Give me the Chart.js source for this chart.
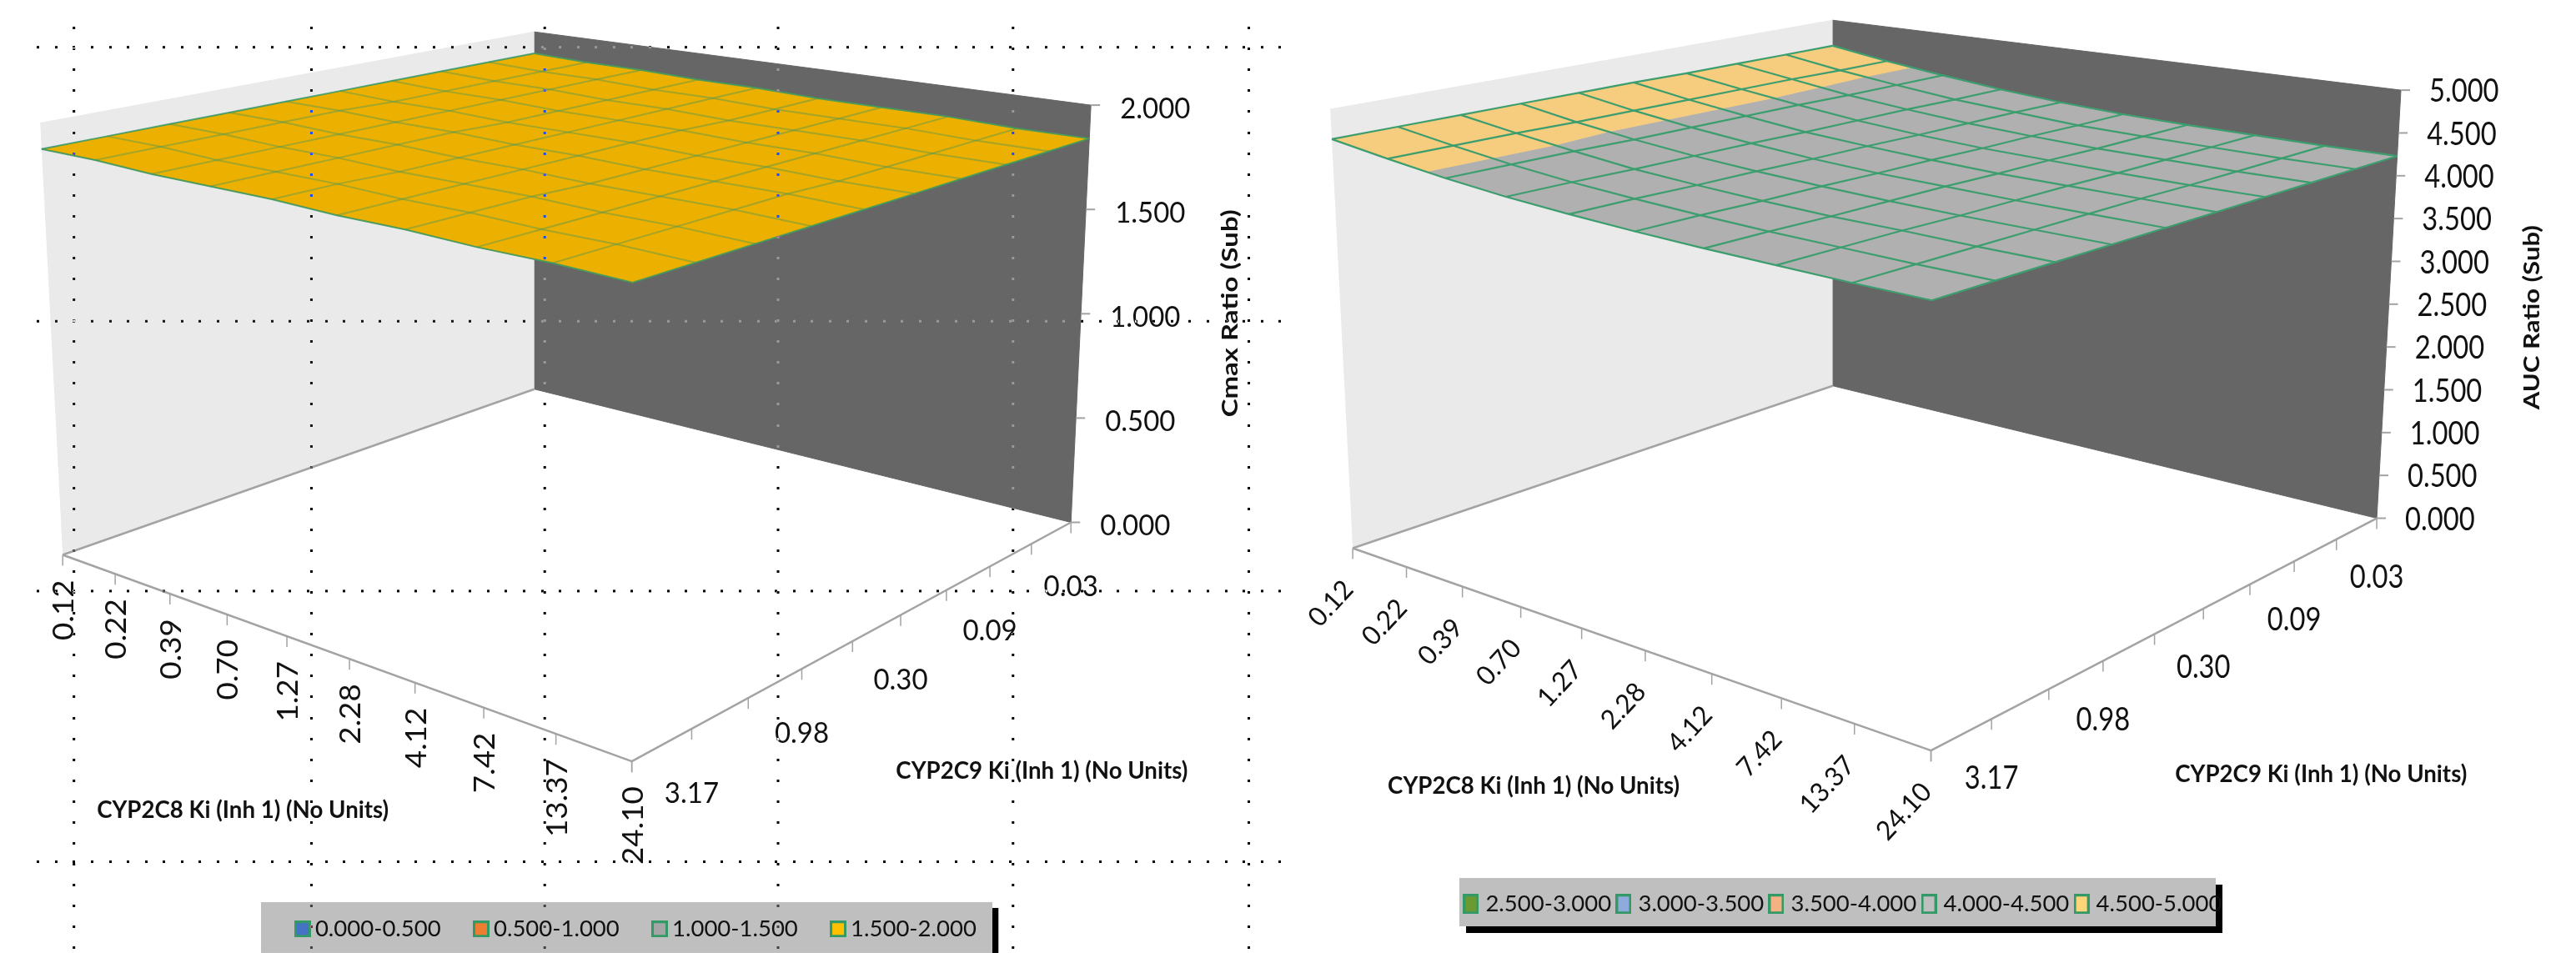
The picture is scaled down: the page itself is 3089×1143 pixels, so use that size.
<!DOCTYPE html>
<html lang="en">
  <head>
    <meta charset="UTF-8" />
    <title>CYP2C8 / CYP2C9 Ki surface charts</title>
    <style>
      html, body { margin: 0; background: #fff; overflow: hidden; }
      canvas { position: absolute; top: 0; }
      #auc { left: 1500px; z-index: 1; }
      #cmax { left: 0; z-index: 2; }
    </style>
  </head>
  <body>
    <canvas id="auc" width="1589" height="1143"></canvas>
    <canvas id="cmax" width="1545" height="1143"></canvas>

    <script src="https://cdn.jsdelivr.net/npm/chart.js@4"></script>
    <script>
      // axis labels, the same for both charts (C9 only labels every other tick)
      const c8Labels = ["0.12", "0.22", "0.39", "0.70", "1.27", "2.28", "4.12", "7.42", "13.37", "24.10"];
      const c9Labels = ["0.03", "", "0.09", "", "0.30", "", "0.98", "", "3.17", ""];

      const cmaxTicks = [0, 0.5, 1, 1.5, 2];
      const aucTicks = [0, 0.5, 1, 1.5, 2, 2.5, 3, 3.5, 4, 4.5, 5];

      // legends
      const cmaxBands = ["0.000-0.500", "0.500-1.000", "1.000-1.500", "1.500-2.000"];
      const cmaxBandEdges = [0, 0.5, 1, 1.5, 2];
      const cmaxSwatches = ["#4472C4", "#ED7D31", "#A5A5A5", "#FFC000"];
      const cmaxSurface = ["#4472C4", "#ED7D31", "#A5A5A5", "#EBB000"];

      const aucBands = ["2.500-3.000", "3.000-3.500", "3.500-4.000", "4.000-4.500", "4.500-5.000"];
      const aucBandEdges = [2.5, 3, 3.5, 4, 4.5, 5];
      const aucSwatches = ["#6B9A33", "#8FAADC", "#F4B183", "#BFBFBF", "#FFD579"];
      const aucSurface = ["#6B9A33", "#8FAADC", "#F4B183", "#B0B0B0", "#F6CC7F"];

      // surface heights, rows = C9 Ki, columns = C8 Ki
      const cmaxGrid = [
        [1.88, 1.87, 1.87, 1.86, 1.86, 1.85, 1.85, 1.85, 1.84, 1.84],
        [1.88, 1.87, 1.87, 1.86, 1.86, 1.85, 1.85, 1.85, 1.84, 1.84],
        [1.88, 1.87, 1.87, 1.86, 1.86, 1.85, 1.85, 1.85, 1.84, 1.84],
        [1.88, 1.87, 1.87, 1.86, 1.86, 1.86, 1.85, 1.85, 1.84, 1.84],
        [1.88, 1.87, 1.87, 1.86, 1.86, 1.86, 1.85, 1.85, 1.84, 1.84],
        [1.88, 1.88, 1.87, 1.87, 1.86, 1.86, 1.85, 1.85, 1.85, 1.84],
        [1.88, 1.88, 1.87, 1.87, 1.86, 1.86, 1.85, 1.85, 1.85, 1.84],
        [1.88, 1.88, 1.87, 1.87, 1.86, 1.86, 1.86, 1.85, 1.85, 1.84],
        [1.88, 1.88, 1.87, 1.87, 1.87, 1.86, 1.86, 1.85, 1.85, 1.84],
        [1.88, 1.88, 1.87, 1.87, 1.87, 1.86, 1.86, 1.85, 1.85, 1.84]
      ];
      const aucGrid = [
        [4.65, 4.54, 4.45, 4.37, 4.31, 4.27, 4.25, 4.24, 4.23, 4.23],
        [4.65, 4.54, 4.45, 4.37, 4.32, 4.27, 4.25, 4.24, 4.23, 4.23],
        [4.65, 4.55, 4.45, 4.38, 4.32, 4.28, 4.25, 4.24, 4.23, 4.23],
        [4.65, 4.55, 4.46, 4.38, 4.32, 4.28, 4.26, 4.24, 4.23, 4.23],
        [4.66, 4.55, 4.46, 4.38, 4.33, 4.29, 4.26, 4.25, 4.24, 4.23],
        [4.66, 4.55, 4.46, 4.39, 4.33, 4.29, 4.27, 4.25, 4.24, 4.23],
        [4.66, 4.55, 4.46, 4.39, 4.34, 4.30, 4.27, 4.25, 4.24, 4.23],
        [4.66, 4.56, 4.47, 4.39, 4.34, 4.30, 4.27, 4.26, 4.24, 4.23],
        [4.66, 4.56, 4.47, 4.40, 4.35, 4.31, 4.28, 4.26, 4.24, 4.23],
        [4.66, 4.56, 4.47, 4.40, 4.35, 4.31, 4.28, 4.26, 4.24, 4.23]
      ];

      // the selection marks around the left chart
      const dotColumns = [87, 372, 652, 932, 1214, 1497];
      const dotRows = [55, 384, 708, 1033];

      const font = "Lato";

      // square -> quad homography, corners in order back, right, front, left
      function homography(q) {
        const [[x0, y0], [x1, y1], [x2, y2], [x3, y3]] = q;
        const dx1 = x1 - x2, dx2 = x3 - x2, dx3 = x0 - x1 + x2 - x3;
        const dy1 = y1 - y2, dy2 = y3 - y2, dy3 = y0 - y1 + y2 - y3;
        const den = dx1 * dy2 - dx2 * dy1;
        const g = (dx3 * dy2 - dx2 * dy3) / den;
        const h = (dx1 * dy3 - dx3 * dy1) / den;
        const a = x1 - x0 + g * x1, b = x3 - x0 + h * x3;
        const d = y1 - y0 + g * y1, e = y3 - y0 + h * y3;
        return (u, v) => {
          const w = g * u + h * v + 1;
          return [(a * u + b * v + x0) / w, (d * u + e * v + y0) / w];
        };
      }

      // keeps the part of a cell on one side of a height
      function clipAbove(poly, limit, sign) {
        const out = [];
        poly.forEach((p, k) => {
          const q = poly[(k + 1) % poly.length];
          const pIn = sign * (p.z - limit) >= 0, qIn = sign * (q.z - limit) >= 0;
          if (pIn) out.push(p);
          if (pIn !== qIn) {
            const t = (limit - p.z) / (q.z - p.z);
            out.push({ u: p.u + t * (q.u - p.u), v: p.v + t * (q.v - p.v), z: limit });
          }
        });
        return out;
      }

      function swatch(w, h, color) {
        const c = document.createElement("canvas");
        c.width = w;
        c.height = h;
        const ctx = c.getContext("2d");
        ctx.fillStyle = "#339966";
        ctx.fillRect(0, 0, w, h);
        ctx.fillStyle = color;
        ctx.fillRect(3, 3, w - 6, h - 6);
        return c;
      }

      function drawText(ctx, str, x, y, o) {
        ctx.save();
        ctx.translate(x, y);
        ctx.rotate(((o.rot || 0) * Math.PI) / 180);
        ctx.font = (o.bold ? "bold " : "") + o.size + "px " + (o.family || font);
        ctx.textAlign = o.align || "left";
        ctx.textBaseline = "middle";
        ctx.fillStyle = "#111";
        let sx = o.sx || 1;
        if (o.width) sx = o.width / ctx.measureText(str).width;
        ctx.scale(sx, 1);
        ctx.fillText(str, 0, 0);
        ctx.restore();
      }

      function makeChart(id, cfg) {
        const floor = homography(cfg.floor);
        const top = homography(cfg.top);
        const zMax = cfg.ticks[cfg.ticks.length - 1];
        const project = (u, v, z) => {
          const a = floor(u, v), b = top(u, v), w = z / zMax;
          return { x: a[0] + (b[0] - a[0]) * w, y: a[1] + (b[1] - a[1]) * w };
        };
        const shift = (p, dx, dy) => ({ x: p.x + dx, y: p.y + dy });
        const n = cfg.grid.length - 1;
        const sets = [];
        const line = (data, color, width) =>
          sets.push({ data, showLine: true, pointRadius: 0, borderColor: color, borderWidth: width, fill: false, clip: false, tension: 0 });
        const shape = (data, color) =>
          sets.push({ data, showLine: true, pointRadius: 0, borderColor: color, borderWidth: 1, backgroundColor: color, fill: "shape", clip: false, tension: 0 });

        // walls
        shape([project(0, 1, zMax), project(0, 0, zMax), project(0, 0, 0), project(0, 1, 0)], "#EAEAEA");
        shape([project(0, 0, zMax), project(1, 0, zMax), project(1, 0, 0), project(0, 0, 0)], "#666666");

        // floor edges and axis ticks
        const edge = "#A3A3A3";
        line([project(0, 1, 0), project(0, 0, 0)], edge, 2.5);
        line([project(0, 1, 0), project(1, 1, 0)], edge, 2.5);
        line([project(1, 1, 0), project(1, 0, 0)], edge, 2.5);
        c8Labels.forEach((_, i) => {
          const p = project(i / n, 1, 0);
          line([p, shift(p, 0, 13)], edge, 1.5);
        });
        c9Labels.forEach((_, j) => {
          const p = project(1, j / n, 0);
          line([p, shift(p, 0, 13)], edge, 1.5);
        });
        cfg.ticks.forEach((t) => {
          const p = project(1, 0, t);
          line([p, shift(p, 11, 0)], edge, 2);
        });

        // surface cells, split along the colour bands
        for (let j = 0; j < n; j++) {
          for (let i = 0; i < n; i++) {
            const cell = [[i, j], [i + 1, j], [i + 1, j + 1], [i, j + 1]].map(([a, b]) => ({ u: a / n, v: b / n, z: cfg.grid[b][a] }));
            cfg.surface.forEach((color, k) => {
              let poly = clipAbove(cell, cfg.edges[k], 1);
              if (poly.length) poly = clipAbove(poly, cfg.edges[k + 1], -1);
              if (poly.length > 2) shape(poly.map((p) => project(p.u, p.v, p.z)), color);
            });
          }
        }
        // surface mesh
        for (let k = 0; k <= n; k++) {
          const outer = k === 0 || k === n;
          const rowLine = cfg.grid[k].map((z, i) => project(i / n, k / n, z));
          const colLine = cfg.grid.map((row, j) => project(k / n, j / n, row[k]));
          line(rowLine, outer ? cfg.meshEdge : cfg.mesh, cfg.meshWidth);
          line(colLine, outer ? cfg.meshEdge : cfg.mesh, cfg.meshWidth);
        }

        const labelsPlugin = {
          id: "labels",
          beforeDraw(chart) {
            const ctx = chart.ctx;
            const X = (v) => chart.scales.x.getPixelForValue(v);
            const Y = (v) => chart.scales.y.getPixelForValue(v);
            ctx.save();
            ctx.fillStyle = "#fff";
            ctx.fillRect(0, 0, chart.width, chart.height);
            cfg.legendShadow.forEach((b) => {
              ctx.fillStyle = "#000";
              ctx.fillRect(X(b[0]), Y(b[1]), b[2], b[3]);
            });
            const b = cfg.legendBox;
            ctx.fillStyle = "#BFBFBF";
            ctx.fillRect(X(b[0]), Y(b[1]), b[2], b[3]);
            ctx.restore();
          },
          afterDraw(chart) {
            const ctx = chart.ctx;
            const X = (v) => chart.scales.x.getPixelForValue(v);
            const Y = (v) => chart.scales.y.getPixelForValue(v);
            cfg.ticks.forEach((t) => {
              const p = project(1, 0, t);
              drawText(ctx, t.toFixed(3), X(p.x) + cfg.zLabel[0], Y(p.y) + cfg.zLabel[1], cfg.tickFont);
            });
            c9Labels.forEach((s, j) => {
              const p = project(1, j / n, 0);
              if (s) drawText(ctx, s, X(p.x), Y(p.y) + cfg.c9Offset, Object.assign({}, cfg.tickFont, { align: "center" }));
            });
            c8Labels.forEach((s, i) => {
              const p = project(i / n, 1, 0);
              drawText(ctx, s, X(p.x) + cfg.c8Offset[0], Y(p.y) + cfg.c8Offset[1], cfg.c8Font);
            });
            cfg.titles.forEach((t) => drawText(ctx, t.text, X(t.x), Y(t.y), t));
            if (cfg.dots) {
              // the marquee inverts whatever it runs over
              ctx.save();
              ctx.globalCompositeOperation = "difference";
              ctx.fillStyle = "#fff";
              for (const cx of dotColumns) {
                for (let y = 32; y < 1143; y += 25.1) ctx.fillRect(X(cx) - 1, Math.round(Y(y)) - 1, 3, 3);
              }
              for (const cy of dotRows) {
                for (let x = 44; x < 1545; x += 21.6) ctx.fillRect(Math.round(X(x)) - 1, Y(cy) - 1, 3, 3);
              }
              ctx.restore();
            }
          }
        };

        const chart = new Chart(document.getElementById(id), {
          type: "scatter",
          data: { datasets: sets.reverse() },
          plugins: [labelsPlugin],
          options: {
            responsive: false,
            animation: false,
            events: [],
            layout: { padding: { right: cfg.padRight, bottom: cfg.padBottom } },
            scales: {
              x: { type: "linear", display: false, min: cfg.left, max: cfg.left + 1000 },
              y: { type: "linear", display: false, reverse: true, min: 0, max: 1000 }
            },
            plugins: {
              tooltip: { enabled: false },
              legend: {
                position: "bottom",
                onClick: null,
                labels: {
                  usePointStyle: true,
                  pointStyleWidth: cfg.legendGap,
                  padding: cfg.legendPad,
                  color: "#111",
                  font: { family: font, size: 27.5 },
                  generateLabels: () =>
                    cfg.bands.map((text, k) => ({ text, pointStyle: swatch(cfg.swatch[0], cfg.swatch[1], cfg.swatches[k]), fontColor: "#111", hidden: false }))
                }
              }
            }
          }
        });
        // data units are page pixels: line the scales up with the final chart area
        chart.options.scales.x.max = cfg.left + chart.chartArea.right;
        chart.options.scales.y.max = chart.chartArea.bottom;
        chart.update();
        return chart;
      }

      makeChart("cmax", {
        left: 0,
        padRight: 12.5,
        padBottom: 5,
        grid: cmaxGrid,
        ticks: cmaxTicks,
        bands: cmaxBands,
        edges: cmaxBandEdges,
        swatches: cmaxSwatches,
        surface: cmaxSurface,
        swatch: [20, 20],
        legendGap: 2.5,
        legendPad: 47,
        legendBox: [312, 1082, 877, 61],
        legendShadow: [[1189, 1089, 8, 54]],
        floor: [[640, 466], [1284, 626], [757, 913], [74, 665]],
        top: [[640, 37], [1308, 125], [758, 288], [47, 146.5]],
        mesh: "rgba(70,150,90,0.42)",
        meshEdge: "rgba(50,150,105,0.85)",
        meshWidth: 2,
        zLabel: [35, 5],
        c9Offset: 78,
        c8Offset: [2, 30],
        tickFont: { size: 34, sx: 0.97 },
        c8Font: { size: 34, sx: 1.08, rot: -90, align: "right" },
        dots: true,
        titles: [
          { text: "CYP2C8 Ki (Inh 1) (No Units)", x: 115, y: 972, size: 28, bold: true, width: 350 },
          { text: "CYP2C9 Ki (Inh 1) (No Units)", x: 1074, y: 925, size: 28, bold: true, width: 350 },
          { text: "Cmax Ratio (Sub)", x: 1476, y: 375, size: 26, bold: true, width: 249, rot: -90, align: "center" }
        ]
      });

      makeChart("auc", {
        left: 1500,
        padRight: 164.5,
        padBottom: 35,
        grid: aucGrid,
        ticks: aucTicks,
        bands: aucBands,
        edges: aucBandEdges,
        swatches: aucSwatches,
        surface: aucSurface,
        swatch: [19, 24],
        legendGap: 7.5,
        legendPad: 11,
        legendBox: [1749, 1053, 907, 58],
        legendShadow: [[1757, 1061, 907, 58]],
        floor: [[2197, 462], [2850, 621], [2315, 900], [1621, 657]],
        top: [[2197, 23], [2879, 107], [2316, 261], [1594, 130]],
        mesh: "#3C9E6E",
        meshEdge: "#3C9E6E",
        meshWidth: 2.2,
        zLabel: [34, 2],
        c9Offset: 71,
        c8Offset: [-5, 44],
        tickFont: { size: 38, sx: 0.86 },
        c8Font: { size: 32, sx: 0.98, rot: -47, align: "right" },
        dots: false,
        titles: [
          { text: "CYP2C8 Ki (Inh 1) (No Units)", x: 1663, y: 943, size: 28, bold: true, width: 350 },
          { text: "CYP2C9 Ki (Inh 1) (No Units)", x: 2608, y: 929, size: 28, bold: true, width: 350 },
          { text: "AUC Ratio (Sub)", x: 3037, y: 380, size: 26, bold: true, width: 221, rot: -90, align: "center" }
        ]
      });
    </script>
  </body>
</html>
